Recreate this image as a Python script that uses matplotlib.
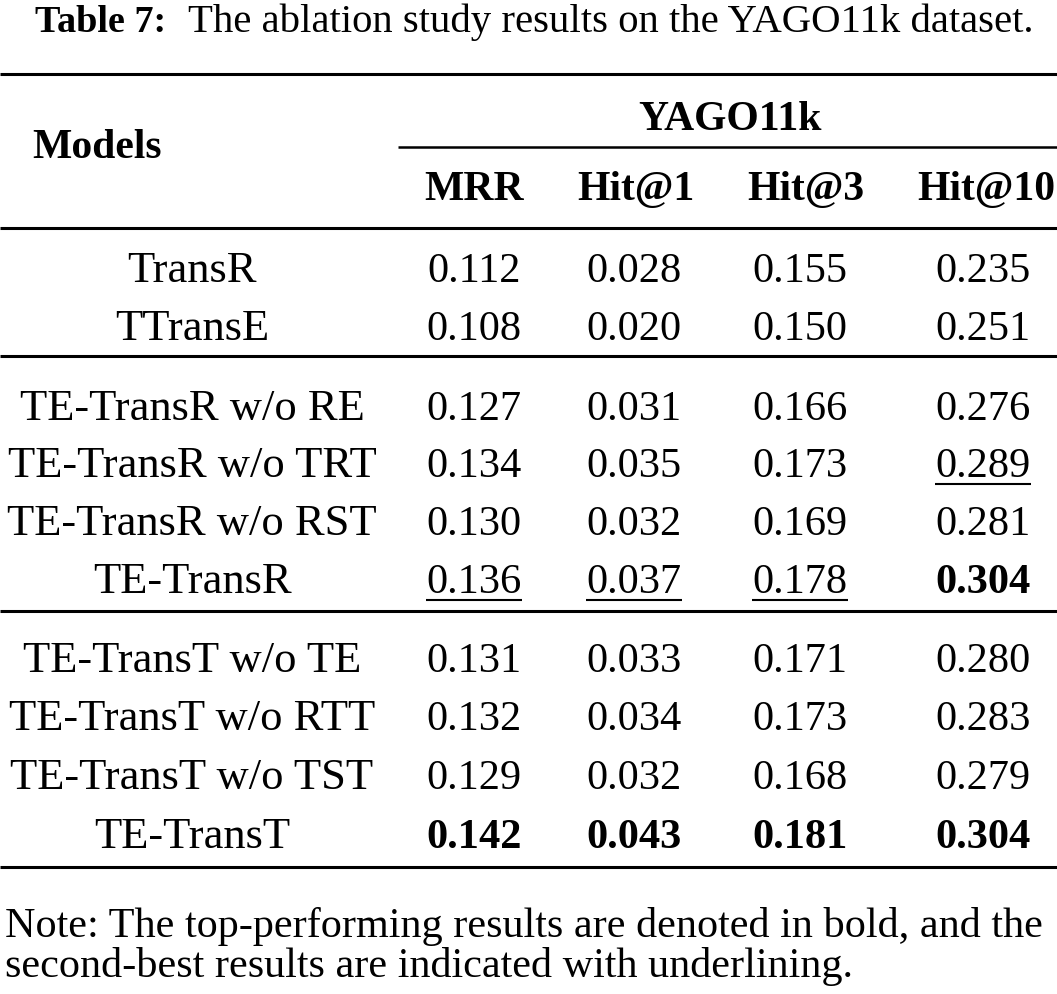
import matplotlib
matplotlib.use("Agg")
import matplotlib.pyplot as plt

# ---- data ----
title_bold = "Table 7:"
title_rest = "The ablation study results on the YAGO11k dataset."
dataset = "YAGO11k"
metrics = ["MRR", "Hit@1", "Hit@3", "Hit@10"]
models = ["TransR", "TTransE",
          "TE-TransR w/o RE", "TE-TransR w/o TRT", "TE-TransR w/o RST", "TE-TransR",
          "TE-TransT w/o TE", "TE-TransT w/o RTT", "TE-TransT w/o TST", "TE-TransT"]
mrr   = ["0.112", "0.108", "0.127", "0.134", "0.130", "0.136", "0.131", "0.132", "0.129", "0.142"]
hit1  = ["0.028", "0.020", "0.031", "0.035", "0.032", "0.037", "0.033", "0.034", "0.032", "0.043"]
hit3  = ["0.155", "0.150", "0.166", "0.173", "0.169", "0.178", "0.171", "0.173", "0.168", "0.181"]
hit10 = ["0.235", "0.251", "0.276", "0.289", "0.281", "0.304", "0.280", "0.283", "0.279", "0.304"]
# style: 'b' bold, 'u' underline, '' normal
style_mrr   = ["", "", "", "", "", "u", "", "", "", "b"]
style_hit1  = ["", "", "", "", "", "u", "", "", "", "b"]
style_hit3  = ["", "", "", "", "", "u", "", "", "", "b"]
style_hit10 = ["", "", "", "u", "", "b", "", "", "", "b"]
note_lines = ["Note: The top-performing results are denoted in bold, and the",
              "second-best results are indicated with underlining."]

# ---- layout ----
W, H = 1057, 995
fig = plt.figure(figsize=(W / 100, H / 100), dpi=100)
ax = fig.add_axes([0, 0, 1, 1])
ax.set_xlim(0, W)
ax.set_ylim(H, 0)
ax.axis("off")

FONT = "Liberation Serif"
FS_NAME = 32
FS_NUM = 30.5
FS_HDR = 30
col_x = [192, 474, 634, 800, 983]
row_base = [282, 340, 420, 477, 535, 593, 672, 730, 789, 848]
rules_full = [75, 229, 357, 612, 868]

# title
ax.text(35, 32, title_bold, fontsize=27.5, fontweight="bold", family=FONT,
        ha="left", va="baseline")
ax.text(188, 32, title_rest, fontsize=29.3, family=FONT, ha="left", va="baseline")

def hline(y, x0=0, x1=W, lw=2.2):
    ax.plot([x0, x1], [y, y], color="black", lw=lw, solid_capstyle="butt")

for y in rules_full:
    hline(y)
hline(148, 398, W, lw=1.8)

ax.text(97, 158, "Models", fontsize=FS_HDR, fontweight="bold", family=FONT,
        ha="center", va="baseline")
ax.text(730, 130, dataset, fontsize=FS_HDR, fontweight="bold", family=FONT,
        ha="center", va="baseline")
hdr_x = [474, 636, 806, 1055]
hdr_ha = ["center", "center", "center", "right"]
for m, x, ha in zip(metrics, hdr_x, hdr_ha):
    ax.text(x, 200, m, fontsize=FS_HDR, fontweight="bold", family=FONT,
            ha=ha, va="baseline")

cols = [(mrr, style_mrr), (hit1, style_hit1), (hit3, style_hit3), (hit10, style_hit10)]
under = []
for i, (name, y) in enumerate(zip(models, row_base)):
    ax.text(col_x[0], y, name, fontsize=FS_NAME, family=FONT, ha="center", va="baseline")
    for j, (vals, sty) in enumerate(cols):
        t = ax.text(col_x[j + 1], y, vals[i], fontsize=FS_NUM, family=FONT,
                    ha="center", va="baseline",
                    fontweight="bold" if sty[i] == "b" else "normal")
        if sty[i] == "u":
            under.append((t, y))

fig.canvas.draw()
r = fig.canvas.get_renderer()
inv = ax.transData.inverted()
for t, y in under:
    bb = t.get_window_extent(r)
    (xa, _), (xb, _) = inv.transform([(bb.x0, 0), (bb.x1, 0)])
    ax.plot([xa, xb], [y + 8, y + 8], color="black", lw=1.5, solid_capstyle="butt")

note_base = [937, 977]
for line, y in zip(note_lines, note_base):
    ax.text(5, y, line, fontsize=30.4, family=FONT, ha="left", va="baseline")

fig.savefig("out.png", dpi=100, facecolor="white")
